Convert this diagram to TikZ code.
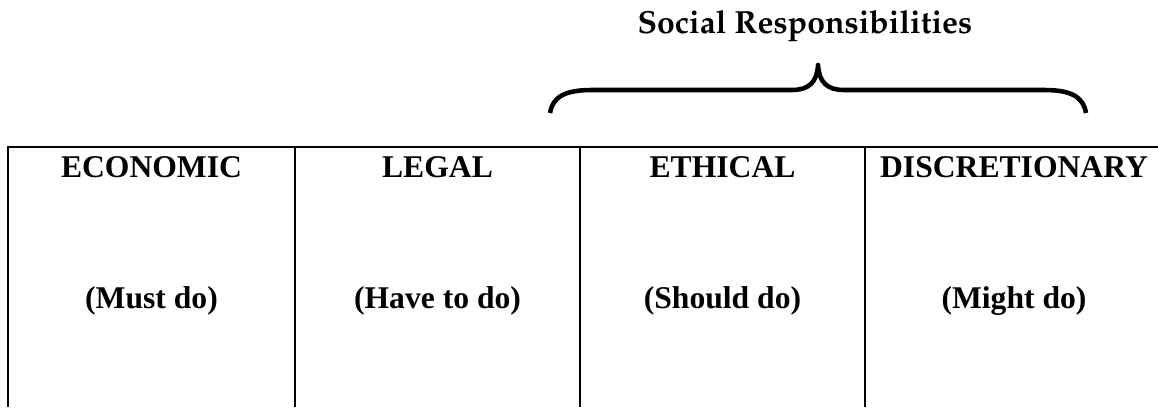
\documentclass[tikz,border=0pt]{standalone}
\usepackage{fontspec}
\setmainfont{Liberation Serif}
\usetikzlibrary{positioning}
\tikzset{
  headtext/.style={
    anchor=base, inner sep=0pt,
    font=\fontsize{18}{21}\selectfont\bfseries
  },
  dutytext/.style={
    anchor=base, inner sep=0pt,
    font=\fontsize{18}{21}\selectfont\bfseries
  },
  titletext/.style={
    anchor=base, inner sep=0pt,
    font=\fontencoding{OT1}\fontfamily{ppl}\fontseries{b}\fontsize{18.2}{21}\selectfont
  },
  gridline/.style={line width=1.1pt, color=black},
  bracearc/.style={line width=2.6pt, line join=round, color=black},
}

\begin{document}
\begin{tikzpicture}[x=0.02cm, y=-0.02cm]
    \useasboundingbox (0,0) rectangle (1158,407);

    % heading and brace over the last two columns
    \node[titletext] (social) at (805,33) {Social Responsibilities};
    \draw[bracearc] (550,113) .. controls (553,96) and (566,90) .. (592,90) -- (792,90)
        .. controls (809,90) and (817,82) .. (818,65)
        .. controls (819,82) and (827,90) .. (844,90) -- (1044,90)
        .. controls (1070,90) and (1083,96) .. (1086,113);

    % table frame
    \draw[gridline] (8,407) -- (8,147) -- (1158,147);
    \foreach \x in {295,580,865}
        \draw[gridline] (\x,147) -- (\x,407);

    % column texts
    \foreach \x/\name/\head/\duty in {151.5/eco/ECONOMIC/{(Must do)},
                                      437.5/legal/LEGAL/{(Have to do)},
                                      722.5/ethic/ETHICAL/{(Should do)},
                                      1014/discr/DISCRETIONARY/{(Might do)}} {
        \node[headtext] (\name-head) at (\x,177) {\head};
        \node[dutytext] (\name-duty) at (\x,308) {\duty};
    }
\end{tikzpicture}
\end{document}
